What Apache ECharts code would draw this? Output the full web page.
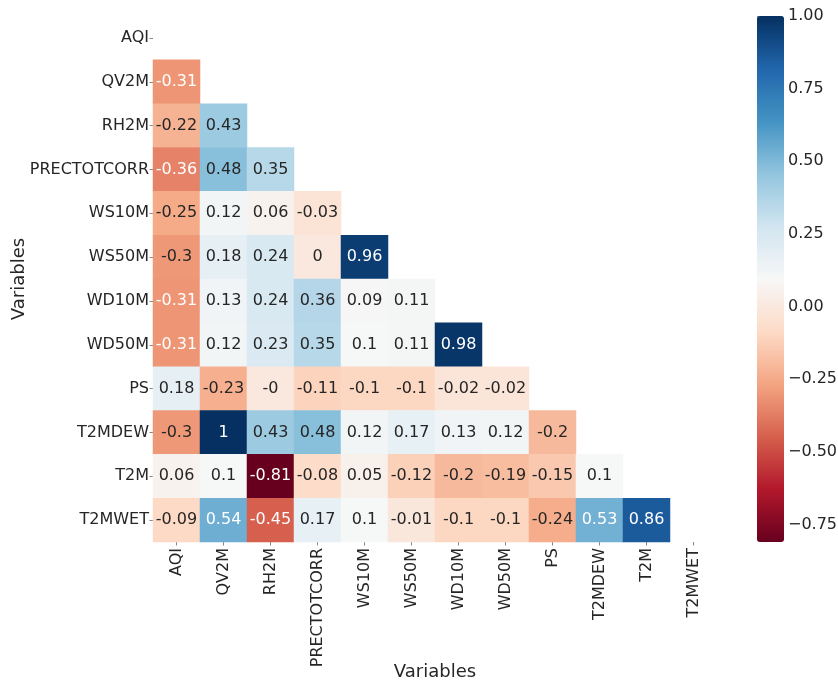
<!DOCTYPE html>
<html>
<head>
<meta charset="utf-8">
<script src="https://cdn.jsdelivr.net/npm/echarts@6/dist/echarts.min.js"></script>
<style>
  html, body { margin: 0; padding: 0; background: #ffffff; }
  #chart { width: 838px; height: 681px; }
</style>
</head>
<body>
<div id="chart"></div>
<script>
// Variable names (rows top-to-bottom, columns left-to-right)
const variables = ['AQI', 'QV2M', 'RH2M', 'PRECTOTCORR', 'WS10M', 'WS50M',
  'WD10M', 'WD50M', 'PS', 'T2MDEW', 'T2M', 'T2MWET'];

// Lower triangle of the correlation matrix: row i holds columns 0..i-1
const corrRows = [
  [],
  [-0.31],
  [-0.22, 0.43],
  [-0.36, 0.48, 0.35],
  [-0.25, 0.12, 0.06, -0.03],
  [-0.3, 0.18, 0.24, 0, 0.96],
  [-0.31, 0.13, 0.24, 0.36, 0.09, 0.11],
  [-0.31, 0.12, 0.23, 0.35, 0.1, 0.11, 0.98],
  [0.18, -0.23, -0, -0.11, -0.1, -0.1, -0.02, -0.02],
  [-0.3, 1, 0.43, 0.48, 0.12, 0.17, 0.13, 0.12, -0.2],
  [0.06, 0.1, -0.81, -0.08, 0.05, -0.12, -0.2, -0.19, -0.15, 0.1],
  [-0.09, 0.54, -0.45, 0.17, 0.1, -0.01, -0.1, -0.1, -0.24, 0.53, 0.86]
];

// Colour scale limits and colorbar tick values
const scaleMin = -0.81;
const scaleMax = 1.0;
const colorbarTicks = [-0.75, -0.5, -0.25, 0, 0.25, 0.5, 0.75, 1.0];

// Diverging red-blue palette (low = red, high = blue)
const palette = ['#67001f', '#b2182b', '#d6604d', '#f4a582', '#fddbc7', '#f7f7f7',
  '#d1e5f0', '#92c5de', '#4393c3', '#2166ac', '#053061'];

const FONT = 'DejaVu Sans';
const TEXT = '#262626';
const TICK = '#6a6a6a';
const FS = 16;

function fmtCell(v) {
  if (Object.is(v, -0)) return '-0';
  return String(v);
}

const cells = [];
corrRows.forEach((row, i) => {
  row.forEach((v, j) => {
    const dark = v < -0.305 || v > 0.5;
    cells.push({
      value: [j, i, v],
      label: { color: dark ? '#ffffff' : TEXT }
    });
  });
});

const chart = echarts.init(document.getElementById('chart'), null, { renderer: 'canvas' });

const gridL = 153, gridT = 16, gridW = 564, gridH = 526;
const cbL = 757, cbW = 27;

chart.setOption({
  animation: false,
  backgroundColor: '#ffffff',
  textStyle: { fontFamily: FONT },
  grid: [
    { left: gridL, top: gridT, width: gridW, height: gridH, outerBoundsMode: 'none', containLabel: false },
    { left: cbL, top: gridT, width: cbW, height: gridH, outerBoundsMode: 'none', containLabel: false }
  ],
  xAxis: [
    {
      type: 'category',
      gridIndex: 0,
      data: variables,
      name: 'Variables',
      nameLocation: 'middle',
      nameGap: 121,
      nameMoveOverlap: false,
      nameTextStyle: { fontFamily: FONT, fontSize: 18, color: TEXT },
      axisLine: { show: false },
      axisTick: { show: true, alignWithLabel: true, length: 3.5, lineStyle: { color: TICK, width: 0.8 } },
      axisLabel: { rotate: 90, margin: 6, fontFamily: FONT, fontSize: FS, color: TEXT, interval: 0 },
      splitLine: { show: false }
    },
    { type: 'value', gridIndex: 1, show: false, min: 0, max: 1 }
  ],
  yAxis: [
    {
      type: 'category',
      gridIndex: 0,
      data: variables,
      inverse: true,
      name: 'Variables',
      nameLocation: 'middle',
      nameRotate: 90,
      nameGap: 125,
      nameMoveOverlap: false,
      nameTextStyle: { fontFamily: FONT, fontSize: 18, color: TEXT },
      axisLine: { show: false },
      axisTick: { show: true, alignWithLabel: true, length: 3.5, lineStyle: { color: TICK, width: 0.8 } },
      axisLabel: { margin: 4, fontFamily: FONT, fontSize: FS, color: TEXT, interval: 0 },
      splitLine: { show: false }
    },
    {
      type: 'value',
      gridIndex: 1,
      position: 'right',
      min: scaleMin,
      max: scaleMax,
      axisLine: { show: false },
      splitLine: { show: false },
      axisTick: { show: true, length: 3.5, customValues: colorbarTicks, lineStyle: { color: TICK, width: 0.8 } },
      axisLabel: {
        margin: 4,
        fontFamily: FONT,
        fontSize: FS,
        color: TEXT,
        customValues: colorbarTicks,
        formatter: v => (v < 0 ? '\u2212' : '') + Math.abs(v).toFixed(2)
      }
    }
  ],
  visualMap: {
    type: 'continuous',
    seriesIndex: 0,
    min: scaleMin,
    max: scaleMax,
    calculable: false,
    orient: 'vertical',
    left: cbL,
    top: gridT,
    padding: 0,
    itemWidth: cbW,
    itemHeight: gridH,
    text: null,
    showLabel: false,
    inRange: { color: palette },
    hoverLink: false
  },
  series: [
    {
      type: 'heatmap',
      xAxisIndex: 0,
      yAxisIndex: 0,
      data: cells,
      label: {
        show: true,
        fontFamily: FONT,
        fontSize: FS,
        formatter: p => fmtCell(p.value[2])
      },
      itemStyle: { borderWidth: 0 },
      emphasis: { disabled: true }
    }
  ]
});
</script>
</body>
</html>
